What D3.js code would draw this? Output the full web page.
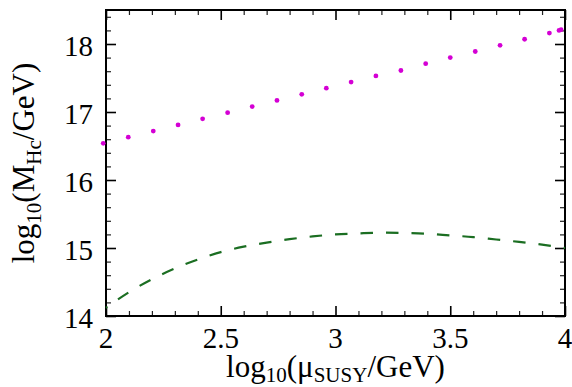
<!DOCTYPE html>
<html>
<head>
<meta charset="utf-8">
<script src="https://cdn.jsdelivr.net/npm/d3@7/dist/d3.min.js"></script>
<style>
  html, body { margin: 0; padding: 0; background: #fff; }
  svg { display: block; }
  text { font-family: "Liberation Serif", "Times New Roman", serif; fill: #000; }
</style>
</head>
<body>
<svg id="chart" width="572" height="387"></svg>
<script>
// Upper series: log10(M_Hc/GeV) sample points (dotted)
const hcX = [1.988, 2.097, 2.206, 2.314, 2.421, 2.530, 2.637, 2.745, 2.853, 2.960, 3.068,
             3.176, 3.285, 3.393, 3.500, 3.609, 3.717, 3.824, 3.932, 3.974, 3.983];
const hcY = [16.54, 16.63, 16.72, 16.81, 16.90, 16.99, 17.08, 17.17, 17.26, 17.35, 17.44,
             17.53, 17.61, 17.71, 17.80, 17.89, 17.98, 18.07, 18.16, 18.20, 18.21];

// Lower series: dashed curve
const curveX = [2.0, 2.1, 2.2, 2.3, 2.4, 2.5, 2.6, 2.7, 2.8, 2.9, 3.0,
                3.1, 3.2, 3.3, 3.4, 3.5, 3.6, 3.7, 3.8, 3.9, 4.0];
const curveY = [14.12, 14.35, 14.54, 14.70, 14.83, 14.94, 15.02, 15.08, 15.13, 15.17, 15.20,
                15.215, 15.225, 15.22, 15.21, 15.185, 15.16, 15.125, 15.09, 15.05, 15.00];

// Axis ticks
const xMajor = [2, 2.5, 3, 3.5, 4];
const xMinor = [2.1, 2.2, 2.3, 2.4, 2.6, 2.7, 2.8, 2.9, 3.1, 3.2, 3.3, 3.4, 3.6, 3.7, 3.8, 3.9];
const yMajor = [14, 15, 16, 17, 18];
const yMinor = [14.2, 14.4, 14.6, 14.8, 15.2, 15.4, 15.6, 15.8, 16.2, 16.4, 16.6, 16.8,
                17.2, 17.4, 17.6, 17.8, 18.2, 18.4];
const xTickLabels = ["2", "2.5", "3", "3.5", "4"];
const yTickLabels = ["14", "15", "16", "17", "18"];

const svg = d3.select("#chart");
const L = 106, R = 565, T = 10, B = 316;

const x = d3.scaleLinear().domain([2, 4]).range([L, R]);
const y = d3.scaleLinear().domain([14, 18.5]).range([B, T]);

function styleTicks(g, w, col) {
  g.select(".domain").remove();
  g.selectAll(".tick text").remove();
  g.selectAll(".tick line").attr("stroke", col).attr("stroke-width", w);
}

// Tick marks on all four sides, pointing inward
const sides = [
  [d3.axisBottom, `translate(0,${B})`, x],
  [d3.axisTop, `translate(0,${T})`, x],
  [d3.axisLeft, `translate(${L},0)`, y],
  [d3.axisRight, `translate(${R},0)`, y]
];
sides.forEach(([axisFn, tr, sc]) => {
  const major = sc === x ? xMajor : yMajor;
  const minor = sc === x ? xMinor : yMinor;
  svg.append("g").attr("transform", tr)
    .call(axisFn(sc).tickValues(major).tickSize(-10))
    .call(g => styleTicks(g, 1.6, "#000"));
  svg.append("g").attr("transform", tr)
    .call(axisFn(sc).tickValues(minor).tickSize(-5))
    .call(g => styleTicks(g, 1.2, "#222"));
});

// Tick labels
svg.append("g").selectAll("text")
  .data(xMajor)
  .join("text")
  .attr("x", d => x(d))
  .attr("y", B + 32)
  .attr("text-anchor", "middle")
  .style("font-size", "29px")
  .text((d, i) => xTickLabels[i]);

svg.append("g").selectAll("text")
  .data(yMajor)
  .join("text")
  .attr("x", L - 13)
  .attr("y", d => y(d) + 11.5)
  .attr("text-anchor", "end")
  .style("font-size", "29px")
  .text((d, i) => yTickLabels[i]);

// Frame
svg.append("rect")
  .attr("x", L).attr("y", T).attr("width", R - L).attr("height", B - T)
  .attr("fill", "none").attr("stroke", "#000").attr("stroke-width", 2);

// Dashed curve
const line = d3.line().x(d => x(d[0])).y(d => y(d[1])).curve(d3.curveMonotoneX);
svg.append("path")
  .datum(d3.zip(curveX, curveY))
  .attr("d", line)
  .attr("fill", "none")
  .attr("stroke", "#1b6e22")
  .attr("stroke-width", 2.2)
  .attr("stroke-dasharray", "12.5 13")
  .attr("stroke-dashoffset", 11);

// Dotted series
svg.append("g").selectAll("circle")
  .data(d3.zip(hcX, hcY))
  .join("circle")
  .attr("cx", d => x(d[0]))
  .attr("cy", d => y(d[1]))
  .attr("r", 2.4)
  .attr("fill", "#d400d4");

// Axis titles
const mainSize = "31px", subSize = "21px";

const xt = svg.append("text")
  .attr("x", (L + R) / 2).attr("y", 377)
  .attr("text-anchor", "middle").style("font-size", mainSize);
xt.append("tspan").text("log");
xt.append("tspan").style("font-size", subSize).attr("dy", 5).text("10");
xt.append("tspan").attr("dy", -5).text("(μ");
xt.append("tspan").style("font-size", subSize).attr("dy", 5).text("SUSY");
xt.append("tspan").attr("dy", -5).text("/GeV)");

const yt = svg.append("text")
  .attr("transform", `translate(34,${(T + B) / 2}) rotate(-90)`)
  .attr("text-anchor", "middle").style("font-size", mainSize);
yt.append("tspan").text("log");
yt.append("tspan").style("font-size", subSize).attr("dy", 7).text("10");
yt.append("tspan").attr("dy", -7).text("(M");
yt.append("tspan").style("font-size", subSize).attr("dy", 7).text("Hc");
yt.append("tspan").attr("dy", -7).text("/GeV)");
</script>
</body>
</html>
